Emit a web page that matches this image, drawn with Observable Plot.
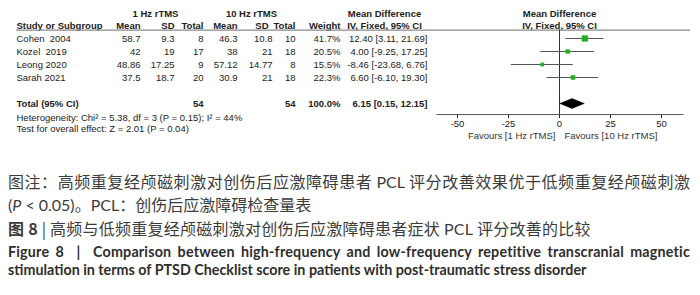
<!DOCTYPE html>
<html><head><meta charset="utf-8">
<script src="https://cdn.jsdelivr.net/npm/d3@7"></script>
<script src="https://cdn.jsdelivr.net/npm/@observablehq/plot@0.6"></script>
<style>
body{margin:0;background:#fff;width:700px;height:295px;overflow:hidden;position:relative}
.ln{position:absolute;left:8px;width:682px;white-space:normal}
.zh{font-family:"Noto Sans CJK SC","Noto Sans",sans-serif;font-size:16px;line-height:23px;color:#3c3c3c}
.lat{font-family:Lato,"Open Sans",sans-serif}
.en{font-family:Lato,"Open Sans",sans-serif;font-weight:bold;font-size:14.3px;line-height:18px;color:#2e2e2e}
.j{text-align:justify;text-align-last:justify;}
.l3{letter-spacing:0.25px}
.l4{letter-spacing:0.2px}
</style></head><body>
<div id="chart"></div>
<div class="ln zh j" style="top:169.5px">图注：高频重复经颅磁刺激对创伤后应激障碍患者 <span class="lat">PCL</span> 评分改善效果优于低频重复经颅磁刺激</div>
<div class="ln zh" style="top:192.5px"><span class="lat">(<i>P</i> &lt; 0.05)</span>。<span class="lat">PCL</span>：创伤后应激障碍检查量表</div>
<div class="ln zh l3" style="top:216.5px"><b>图 8</b> | 高频与低频重复经颅磁刺激对创伤后应激障碍患者症状 <span class="lat">PCL</span> 评分改善的比较</div>
<div class="ln en j l4" style="top:243px">Figure 8 &nbsp;|&nbsp; Comparison between high-frequency and low-frequency repetitive transcranial magnetic</div>
<div class="ln en" style="top:261px">stimulation in terms of PTSD Checklist score in patients with post-traumatic stress disorder</div>
<script>
// ---- data ----
const studies = ["Cohen  2004", "Kozel  2019", "Leong 2020", "Sarah 2021"];
const mean1 = [58.7, 42, 48.86, 37.5];
const sd1 = [9.3, 19, 17.25, 18.7];
const n1 = [8, 17, 9, 20];
const mean2 = [46.3, 38, 57.12, 30.9];
const sd2 = [10.8, 21, 14.77, 21];
const n2 = [10, 18, 8, 18];
const weight = [41.7, 20.5, 15.5, 22.3];
const md = [12.40, 4.00, -8.46, 6.60];
const ciLo = [3.11, -9.25, -23.68, -6.10];
const ciHi = [21.69, 17.25, 6.76, 19.30];
const totalN1 = 54, totalN2 = 54, totalWeight = 100.0;
const totalMd = 6.15, totalLo = 0.15, totalHi = 12.15;
const heterogeneity = "Heterogeneity: Chi\u00b2 = 5.38, df = 3 (P = 0.15); I\u00b2 = 44%";
const overallTest = "Test for overall effect: Z = 2.01 (P = 0.04)";
const xTicks = [-50, -25, 0, 25, 50];
const axisExtent = [-60, 61];
const favourLeft = "Favours [1 Hz rTMS]";
const favourRight = "Favours [10 Hz rTMS]";

// ---- layout ----
const W = 700, H = 145, ML = 16, MR = 10;
const Y = {h1: -1.92, h2: -1.0, rule: -0.65, total: 5, het: 6.15, test: 6.96, axis: 5.85, fav: 7.46};
const COL = {study: 16, m1: 140, s1: 174, n1: 203, m2: 237, s2: 272, s2h: 268, n2: 295, w: 340, ci: 427, g1: 155, g2: 251, mdh: 384};
const green = "#1fb01f";
const ink = "#222";
const fmt2 = v => v.toFixed(2);
const ciText = (m, l, h) => `${fmt2(m)} [${fmt2(l)}, ${fmt2(h)}]`;

const rows = studies.map((s, i) => ({
  i, study: s, m1: mean1[i], s1: sd1[i], n1: n1[i], m2: mean2[i], s2: sd2[i], n2: n2[i],
  w: weight[i], md: md[i], lo: ciLo[i], hi: ciHi[i]
}));

const col = (data, y, text, key, anchor, extra = {}) =>
  Plot.text(data, {y, text, frameAnchor: "left", dx: COL[key] - ML, textAnchor: anchor, fill: ink, fontSize: 9.5, ...extra});

const bold = {fontWeight: "bold"};
const marks = [];
// header row 1
marks.push(col([0], () => Y.h1, () => "1 Hz rTMS", "g1", "middle", bold));
marks.push(col([0], () => Y.h1, () => "10 Hz rTMS", "g2", "middle", bold));
marks.push(col([0], () => Y.h1, () => "Mean Difference", "mdh", "middle", bold));
// header row 2
const h2 = [["study", "Study or Subgroup", "start"], ["m1", "Mean", "end"], ["s1", "SD", "end"], ["n1", "Total", "end"],
  ["m2", "Mean", "end"], ["s2h", "SD", "end"], ["n2", "Total", "end"], ["w", "Weight", "end"], ["mdh", "IV, Fixed, 95% CI", "middle"]];
for (const [k, t, a] of h2) marks.push(col([0], () => Y.h2, () => t, k, a, bold));
// right headers
marks.push(Plot.text([0], {x: 0, y: () => Y.h1, text: () => "Mean Difference", fill: ink, fontSize: 9.5, fontWeight: "bold"}));
marks.push(Plot.text([0], {x: 0, y: () => Y.h2, text: () => "IV, Fixed, 95% CI", fill: ink, fontSize: 9.5, fontWeight: "bold"}));
marks.push(Plot.ruleY([Y.rule], {stroke: "#8a8a8a", strokeWidth: 1.2}));
// study rows
marks.push(col(rows, "i", "study", "study", "start"));
for (const k of ["m1", "s1", "n1", "m2", "s2", "n2"]) marks.push(col(rows, "i", d => String(d[k]), k, "end"));
marks.push(col(rows, "i", d => d.w.toFixed(1) + "%", "w", "end"));
marks.push(col(rows, "i", d => ciText(d.md, d.lo, d.hi), "ci", "end"));
// total row
marks.push(col([0], () => Y.total, () => "Total (95% CI)", "study", "start", bold));
marks.push(col([0], () => Y.total, () => String(totalN1), "n1", "end", bold));
marks.push(col([0], () => Y.total, () => String(totalN2), "n2", "end", bold));
marks.push(col([0], () => Y.total, () => totalWeight.toFixed(1) + "%", "w", "end", bold));
marks.push(col([0], () => Y.total, () => ciText(totalMd, totalLo, totalHi), "ci", "end", bold));
marks.push(col([0], () => Y.het, () => heterogeneity, "study", "start"));
marks.push(col([0], () => Y.test, () => overallTest, "study", "start"));
// forest
marks.push(Plot.ruleY([Y.axis], {x1: axisExtent[0], x2: axisExtent[1], stroke: "#555"}));
marks.push(Plot.ruleX([0], {y1: Y.rule, y2: Y.axis, stroke: "#333"}));
marks.push(Plot.ruleY(rows, {y: "i", x1: "lo", x2: "hi", stroke: "#555", strokeWidth: 1.1}));
marks.push(Plot.dot(rows, {x: "md", y: "i", r: "w", symbol: "square", fill: green, stroke: "none"}));
const dh = 0.38;
const diamond = [
  {x: totalLo, y: Y.total}, {x: totalMd, y: Y.total - dh}, {x: totalHi, y: Y.total},
  {x: totalMd, y: Y.total + dh}, {x: totalLo, y: Y.total}
];
marks.push(Plot.line(diamond, {x: "x", y: "y", fill: "black", stroke: "black", strokeWidth: 0.5, curve: "linear"}));
marks.push(Plot.text([0], {x: 0, y: () => Y.fav, text: () => favourLeft, dx: -4, textAnchor: "end", fill: "#333", fontSize: 9.5}));
marks.push(Plot.text([0], {x: 0, y: () => Y.fav, text: () => favourRight, dx: 5, textAnchor: "start", fill: "#333", fontSize: 9.5}));

const chart = Plot.plot({
  width: W, height: H,
  marginLeft: ML, marginRight: MR, marginTop: 0, marginBottom: H - 114,
  style: {fontFamily: "'Liberation Sans', Arial, sans-serif", fontSize: "9.5px", color: ink, background: "white"},
  x: {domain: [-50, 50], range: [457, 661], ticks: xTicks, tickFormat: d => String(d), tickSize: 4, tickPadding: 2, label: null},
  y: {domain: [0, 1], range: [38, 51], axis: null},
  r: {domain: [0, d3.max(weight)], range: [0, 3.5]},
  marks
});
document.getElementById("chart").appendChild(chart);
</script>
</body></html>
